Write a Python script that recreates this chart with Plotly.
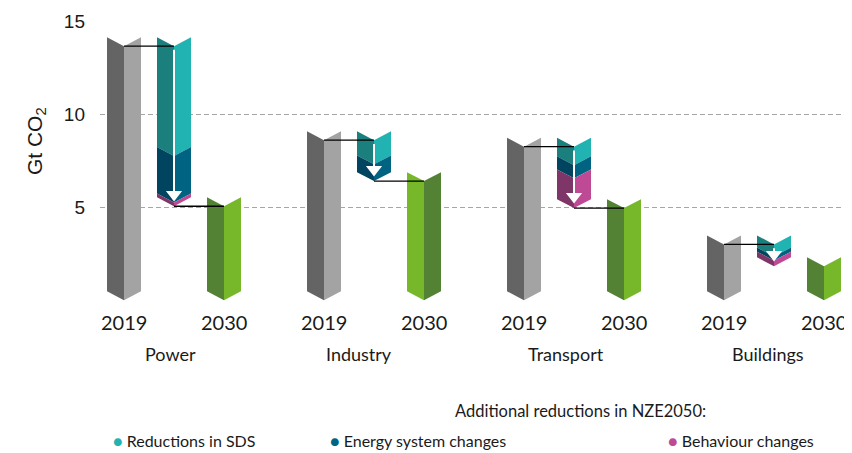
import plotly.graph_objects as go

# emissions by sector, Gt CO2
sectors = ["Power", "Industry", "Transport", "Buildings"]
emissions_2019 = [13.65, 8.6, 8.25, 3.0]
reductions_sds = [5.9, 1.3, 1.0, 0.65]
energy_system = [2.5, 0.9, 0.7, 0.22]
behaviour = [0.2, 0.0, 1.6, 0.3]
emissions_2030 = [5.05, 6.4, 4.95, 1.83]
year_labels = ["2019", "2030"]
y_ticks = [5, 10, 15]

# style
HW = 0.34        # half width of a column (x units)
NOTCH = 0.48     # depth of the chevron notch (y units)
GREY = ("#646464", "#a3a3a3")
GREEN = ("#548235", "#76b82a")
SDS_C = ("#1a7f7d", "#20b3b1")
ENERGY_C = ("#00445f", "#006382")
BEHAV_C = ("#7e3567", "#be4a96")
FONT = "Lato"
NO_LOWER_LINK = {"Buildings"}   # the original has no 2030 connector there

# the page body has an 8px margin, so the figure is drawn a bit smaller
OFF = 8
W, H = 852 - OFF, 453 - OFF
PLOT_LEFT, PLOT_RIGHT, PLOT_TOP = 100, 850, 21   # page pixels
Y0, Y1 = -0.2, 15
PX_PER_Y = 18.6
plot_h = (Y1 - Y0) * PX_PER_Y
plot_bottom = PLOT_TOP + plot_h
L, R, T = PLOT_LEFT - OFF, 852 - PLOT_RIGHT, PLOT_TOP - OFF
B = H - (plot_bottom - OFF)


def py(ypx):
    return (plot_bottom - ypx) / plot_h


def px(xpx):
    return (xpx - PLOT_LEFT) / (PLOT_RIGHT - PLOT_LEFT)


fig = go.Figure()


def half(xs, ys, color):
    fig.add_trace(go.Scatter(x=xs, y=ys, fill="toself", fillcolor=color, mode="lines",
                             line=dict(width=0), hoverinfo="skip", showlegend=False))


def column(xc, top, bottom, colors):
    dark, light = colors
    half([xc - HW, xc, xc, xc - HW, xc - HW],
         [top + NOTCH, top, bottom, bottom + NOTCH, top + NOTCH], dark)
    half([xc, xc + HW, xc + HW, xc, xc],
         [top, top + NOTCH, bottom + NOTCH, bottom, top], light)


def link(xa, xb, y):
    fig.add_trace(go.Scatter(x=[xa, xb], y=[y, y], mode="lines",
                             line=dict(color="black", width=1.4), hoverinfo="skip", showlegend=False))


for i, name in enumerate(sectors):
    x0 = 4 * i
    column(x0, emissions_2019[i], 0, GREY)
    green = GREEN[::-1] if name == "Industry" else GREEN
    column(x0 + 2, emissions_2030[i], 0, green)

    level = emissions_2019[i]
    for val, cols in [(reductions_sds[i], SDS_C), (energy_system[i], ENERGY_C), (behaviour[i], BEHAV_C)]:
        if val > 0:
            column(x0 + 1, level, level - val, cols)
            level -= val

    link(x0, x0 + 1, emissions_2019[i])
    if name not in NO_LOWER_LINK:
        link(x0 + 1, x0 + 2, emissions_2030[i])

    # white arrow
    tip = emissions_2030[i] + 0.25
    head = tip + 7 / PX_PER_Y
    fig.add_trace(go.Scatter(x=[x0 + 1, x0 + 1], y=[emissions_2019[i] - 0.2, head], mode="lines",
                             line=dict(color="white", width=2), hoverinfo="skip", showlegend=False))
    fig.add_trace(go.Scatter(x=[x0 + 1], y=[head], mode="markers",
                             marker=dict(symbol="triangle-down", size=14, color="white"),
                             hoverinfo="skip", showlegend=False))

    for k, yl in enumerate(year_labels):
        fig.add_annotation(x=x0 + 2 * k, y=py(322), xref="x", yref="paper", text=yl,
                           xanchor="center", yanchor="middle", showarrow=False,
                           font=dict(family=FONT, size=20, color="#1a1a1a"))

label_x = [0.92, 4.7, 8.84, 12.88]
for name, lx in zip(sectors, label_x):
    fig.add_annotation(x=lx, y=py(354), xref="x", yref="paper", text=name,
                       xanchor="center", yanchor="middle", showarrow=False,
                       font=dict(family=FONT, size=18, color="#1a1a1a"))

fig.add_annotation(x=px(36), y=py(141), xref="paper", yref="paper", text="Gt CO<sub>2</sub>",
                   textangle=-90, showarrow=False, xanchor="center", yanchor="middle",
                   font=dict(family="Liberation Sans", size=21, color="#1a1a1a"))

fig.add_annotation(x=px(453), y=py(411), xref="paper", yref="paper", xanchor="left",
                   yanchor="middle", text="Additional reductions in NZE2050:", showarrow=False,
                   font=dict(family=FONT, size=16.5, color="#1a1a1a"))

legend_items = [("Reductions in SDS", SDS_C[1], 111), ("Energy system changes", ENERGY_C[1], 328),
                ("Behaviour changes", BEHAV_C[1], 666)]
for text, col, lx in legend_items:
    fig.add_annotation(x=px(lx), y=py(440), xref="paper", yref="paper", xanchor="left",
                       yanchor="middle", text=f"<span style='color:{col}'>●</span> {text}",
                       showarrow=False, font=dict(family=FONT, size=16, color="#1a1a1a"))

fig.update_layout(
    width=W, height=H,
    margin=dict(l=L, r=R, t=T, b=B),
    plot_bgcolor="white", paper_bgcolor="white",
    xaxis=dict(range=[-0.48, 14.52], showgrid=False, zeroline=False, showticklabels=False,
               fixedrange=True),
    yaxis=dict(range=[Y0, Y1], tickvals=y_ticks, showgrid=True, gridcolor="#a6a6a6",
               griddash="5px,3px", gridwidth=1, zeroline=False, ticks="",
               ticklabelstandoff=14,
               tickfont=dict(family="Liberation Sans", size=19, color="#1a1a1a")),
)

fig.write_html("out.html")
